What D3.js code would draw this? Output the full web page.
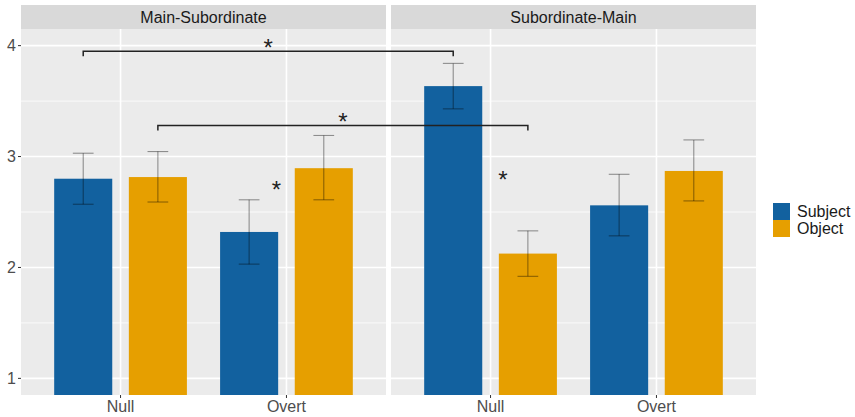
<!DOCTYPE html>
<html>
<head>
<meta charset="utf-8">
<script src="https://cdn.jsdelivr.net/npm/d3@7"></script>
<style>
  body { margin: 0; background: #fff; }
  svg text { font-family: "Liberation Sans", Arial, sans-serif; }
</style>
</head>
<body>
<svg id="chart" width="855" height="417"></svg>
<script>
// Data
const panels = ['Main-Subordinate', 'Subordinate-Main'];
const conditions = ['Null', 'Overt'];
const series = ['Subject', 'Object'];
const colors = ['#12619F', '#E69F00'];

// means[panel][condition] -> [Subject, Object]
const means = [
  [[2.80, 2.815], [2.32, 2.895]],
  [[3.635, 2.125], [2.56, 2.87]]
];
const lower = [
  [[2.57, 2.59], [2.03, 2.61]],
  [[3.43, 1.92], [2.285, 2.60]]
];
const upper = [
  [[3.03, 3.045], [2.61, 3.19]],
  [[3.84, 2.33], [2.84, 3.15]]
];

const yTicks = [1, 2, 3, 4];
const yMinor = [1.5, 2.5, 3.5];

// significance brackets across panels: [panel, condition, series] endpoints
const brackets = [
  { from: [0, 0, 0], to: [1, 0, 0], y: 3.95, label: '*' },
  { from: [0, 0, 1], to: [1, 0, 1], y: 3.28, label: '*' }
];
// loose stars inside panels (x in discrete units, 1 = Null, 2 = Overt)
const stars = [
  { panel: 0, x: 1.94, y: 2.745 },
  { panel: 1, x: 1.075, y: 2.835 }
];

const svg = d3.select('#chart');

// layout
const panelLeft = [21, 391];
const panelW = 365;
const stripTop = 5, stripH = 24;
const plotTop = stripTop + stripH, plotBottom = 395;

const y = d3.scaleLinear().domain([0.85, 4.15]).range([plotBottom, plotTop]);
const xPanel = panelLeft.map(l => d3.scaleLinear().domain([0.4, 2.6]).range([l, l + panelW]));
const unit = panelW / 2.2;
const dodge = d3.scalePoint().domain(series).range([-0.225, 0.225]);
const barW = 0.35;
const capW = 0.125;

svg.append('defs').selectAll('clipPath')
  .data(panels)
  .join('clipPath')
  .attr('id', (d, i) => 'clip' + i)
  .append('rect')
  .attr('x', (d, i) => panelLeft[i])
  .attr('y', plotTop)
  .attr('width', panelW)
  .attr('height', plotBottom - plotTop);

panels.forEach((name, p) => {
  const x = xPanel[p];
  const g = svg.append('g');

  // panel background
  g.append('rect')
    .attr('x', panelLeft[p]).attr('y', plotTop)
    .attr('width', panelW).attr('height', plotBottom - plotTop)
    .attr('fill', '#EBEBEB');

  // strip
  g.append('rect')
    .attr('x', panelLeft[p]).attr('y', stripTop)
    .attr('width', panelW).attr('height', stripH)
    .attr('fill', '#D9D9D9');
  g.append('text')
    .attr('x', panelLeft[p] + panelW / 2).attr('y', stripTop + stripH / 2)
    .attr('dy', '0.35em')
    .attr('text-anchor', 'middle')
    .attr('font-size', 16)
    .attr('fill', '#1A1A1A')
    .text(name);

  // grid
  g.selectAll('.minor').data(yMinor).join('line')
    .attr('x1', panelLeft[p]).attr('x2', panelLeft[p] + panelW)
    .attr('y1', d => y(d)).attr('y2', d => y(d))
    .attr('stroke', '#fff').attr('stroke-width', 0.8);
  g.selectAll('.major').data(yTicks).join('line')
    .attr('x1', panelLeft[p]).attr('x2', panelLeft[p] + panelW)
    .attr('y1', d => y(d)).attr('y2', d => y(d))
    .attr('stroke', '#fff').attr('stroke-width', 1.6);
  g.selectAll('.vmajor').data(conditions).join('line')
    .attr('x1', (d, i) => x(i + 1)).attr('x2', (d, i) => x(i + 1))
    .attr('y1', plotTop).attr('y2', plotBottom)
    .attr('stroke', '#fff').attr('stroke-width', 1.6);

  // bars
  const rows = [];
  conditions.forEach((c, ci) => series.forEach((s, si) => {
    rows.push({ ci, si, c, s, m: means[p][ci][si], lo: lower[p][ci][si], hi: upper[p][ci][si] });
  }));
  const pos = d => x(d.ci + 1 + dodge(d.s));

  g.append('g').attr('clip-path', `url(#clip${p})`)
    .selectAll('rect').data(rows).join('rect')
    .attr('x', d => pos(d) - barW * unit / 2)
    .attr('width', barW * unit)
    .attr('y', d => y(d.m))
    .attr('height', d => y(0) - y(d.m))
    .attr('fill', d => colors[d.si]);

  // error bars
  const eb = g.append('g').attr('stroke', 'rgba(0,0,0,0.4)').attr('stroke-width', 1.1).attr('fill', 'none');
  eb.selectAll('.v').data(rows).join('line')
    .attr('x1', pos).attr('x2', pos)
    .attr('y1', d => y(d.lo)).attr('y2', d => y(d.hi));
  eb.selectAll('.t').data(rows).join('line')
    .attr('x1', d => pos(d) - capW * unit / 2).attr('x2', d => pos(d) + capW * unit / 2)
    .attr('y1', d => y(d.hi)).attr('y2', d => y(d.hi));
  eb.selectAll('.b').data(rows).join('line')
    .attr('x1', d => pos(d) - capW * unit / 2).attr('x2', d => pos(d) + capW * unit / 2)
    .attr('y1', d => y(d.lo)).attr('y2', d => y(d.lo));

  // x axis
  const xa = svg.append('g');
  conditions.forEach((c, ci) => {
    xa.append('line')
      .attr('x1', x(ci + 1)).attr('x2', x(ci + 1))
      .attr('y1', plotBottom).attr('y2', plotBottom + 3)
      .attr('stroke', '#333').attr('stroke-width', 1);
    xa.append('text')
      .attr('x', x(ci + 1)).attr('y', plotBottom + 17)
      .attr('text-anchor', 'middle')
      .attr('font-size', 16)
      .attr('fill', '#4D4D4D')
      .text(c);
  });
});

// y axis
const ya = svg.append('g');
yTicks.forEach(t => {
  ya.append('line')
    .attr('x1', panelLeft[0] - 3).attr('x2', panelLeft[0])
    .attr('y1', y(t)).attr('y2', y(t))
    .attr('stroke', '#333').attr('stroke-width', 1);
  ya.append('text')
    .attr('x', panelLeft[0] - 5).attr('y', y(t))
    .attr('dy', '0.35em')
    .attr('text-anchor', 'end')
    .attr('font-size', 16)
    .attr('fill', '#4D4D4D')
    .text(t);
});

// significance brackets
const bx = e => xPanel[e[0]](e[1] + 1 + dodge(series[e[2]]));
brackets.forEach(b => {
  const x1 = bx(b.from), x2 = bx(b.to), yy = y(b.y);
  svg.append('path')
    .attr('d', `M${x1},${yy + 5}V${yy}H${x2}V${yy + 5}`)
    .attr('fill', 'none')
    .attr('stroke', '#222')
    .attr('stroke-width', 1.5);
  svg.append('text')
    .attr('x', (x1 + x2) / 2).attr('y', yy + 5)
    .attr('text-anchor', 'middle')
    .attr('font-size', 24)
    .attr('fill', '#222')
    .text(b.label);
});
stars.forEach(s => {
  svg.append('text')
    .attr('x', xPanel[s.panel](s.x)).attr('y', y(s.y) + 13.5)
    .attr('text-anchor', 'middle')
    .attr('font-size', 24)
    .attr('fill', '#222')
    .text('*');
});

// legend
const lg = svg.append('g').attr('transform', 'translate(773,203)');
series.forEach((s, i) => {
  lg.append('rect')
    .attr('x', 0).attr('y', i * 17)
    .attr('width', 17).attr('height', 17)
    .attr('fill', colors[i]);
  lg.append('text')
    .attr('x', 24).attr('y', i * 17 + 8.5)
    .attr('dy', '0.35em')
    .attr('font-size', 16)
    .attr('fill', '#1A1A1A')
    .text(s);
});
</script>
</body>
</html>
